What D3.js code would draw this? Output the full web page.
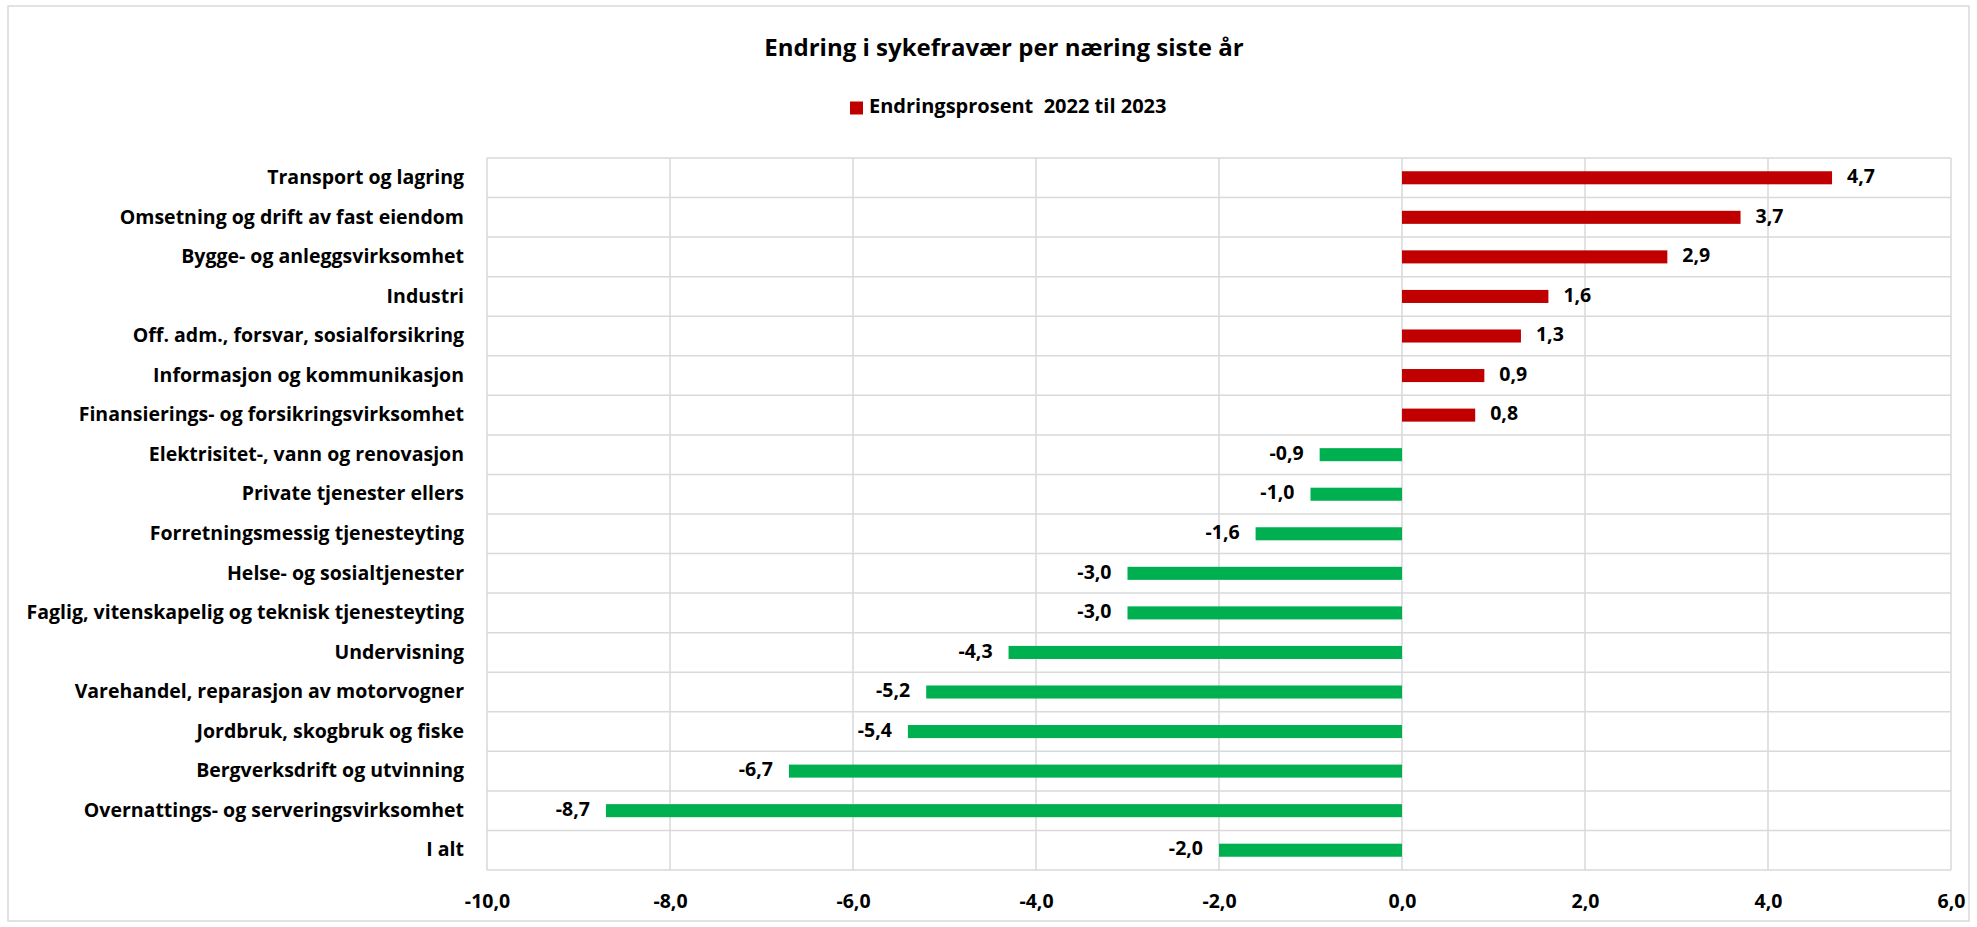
<!DOCTYPE html>
<html>
<head>
<meta charset="utf-8">
<script src="https://cdn.jsdelivr.net/npm/d3@7"></script>
<style>
  body { margin: 0; background: #fff; }
  text { font-family: "Open Sans", Lato, sans-serif; font-weight: bold; fill: #000; }
</style>
</head>
<body>
<div id="chart"></div>
<script>
// Data
const categories = [
    "Transport og lagring",
    "Omsetning og drift av fast eiendom",
    "Bygge- og anleggsvirksomhet",
    "Industri",
    "Off. adm., forsvar, sosialforsikring",
    "Informasjon og kommunikasjon",
    "Finansierings- og forsikringsvirksomhet",
    "Elektrisitet-, vann og renovasjon",
    "Private tjenester ellers",
    "Forretningsmessig tjenesteyting",
    "Helse- og sosialtjenester",
    "Faglig, vitenskapelig og teknisk tjenesteyting",
    "Undervisning",
    "Varehandel, reparasjon av motorvogner",
    "Jordbruk, skogbruk og fiske",
    "Bergverksdrift og utvinning",
    "Overnattings- og serveringsvirksomhet",
    "I alt"
];
const changes = [4.7, 3.7, 2.9, 1.6, 1.3, 0.9, 0.8, -0.9, -1.0, -1.6, -3.0, -3.0, -4.3, -5.2, -5.4, -6.7, -8.7, -2.0];
const xTicks = [-10, -8, -6, -4, -2, 0, 2, 4, 6];
const seriesName = "Endringsprosent  2022 til 2023";
const title = "Endring i sykefravær per næring siste år";

const WIDTH = 1977, HEIGHT = 927;
const PLOT = { LEFT: 487, RIGHT: 1951, TOP: 158, BOTTOM: 870 };
const RED = "#C00000", GREEN = "#00B050", GRID = "#D9D9D9";
const FS = "19.5px";

const rows = categories.map((c, i) => ({ name: c, value: changes[i] }));
// Norwegian style: comma decimal, plain hyphen for minus
const fmt = v => d3.format(".1f")(v).replace(".", ",").replace("\u2212", "-");

const svg = d3.select("#chart").append("svg")
    .attr("width", WIDTH)
    .attr("height", HEIGHT);

// chart border
svg.append("rect")
    .attr("x", 8).attr("y", 6)
    .attr("width", WIDTH - 16).attr("height", HEIGHT - 12)
    .attr("fill", "#fff")
    .attr("stroke", GRID)
    .attr("stroke-width", 1.5);

// title + legend
svg.append("text")
    .attr("x", 1004).attr("y", 50)
    .attr("text-anchor", "middle")
    .attr("dominant-baseline", "middle")
    .style("font-size", "24px")
    .text(title);

const legend = svg.append("g").attr("transform", "translate(850, 108)");
legend.append("rect")
    .attr("x", 0).attr("y", -6.5)
    .attr("width", 13).attr("height", 13)
    .attr("fill", RED);
legend.append("text")
    .attr("x", 19).attr("y", 0)
    .attr("dominant-baseline", "middle")
    .style("font-size", "20px")
    .style("white-space", "pre")
    .text(seriesName);

// scales
const x = d3.scaleLinear()
    .domain([xTicks[0], xTicks[xTicks.length - 1]])
    .range([PLOT.LEFT, PLOT.RIGHT]);

const y = d3.scaleBand()
    .domain(categories)
    .range([PLOT.TOP, PLOT.BOTTOM])
    .padding(0);

// gridlines
const grid = svg.append("g");
grid.selectAll(".vgrid")
    .data(xTicks)
    .enter().append("line")
    .attr("x1", d => x(d)).attr("x2", d => x(d))
    .attr("y1", PLOT.TOP).attr("y2", PLOT.BOTTOM)
    .attr("stroke", GRID)
    .attr("stroke-width", 1.5);

const hLines = categories.map(c => y(c)).concat([PLOT.BOTTOM]);
grid.selectAll(".hgrid")
    .data(hLines)
    .enter().append("line")
    .attr("x1", PLOT.LEFT).attr("x2", PLOT.RIGHT)
    .attr("y1", d => d).attr("y2", d => d)
    .attr("stroke", GRID)
    .attr("stroke-width", 1.5);

// axes
const xAxis = svg.append("g")
    .attr("transform", `translate(0, ${PLOT.BOTTOM})`)
    .call(d3.axisBottom(x).tickValues(xTicks).tickFormat(fmt).tickSize(0).tickPadding(24));
xAxis.select(".domain").remove();
xAxis.selectAll("text")
    .style("font-size", FS)
    .style("font-family", "'Open Sans', sans-serif");

const yAxis = svg.append("g")
    .attr("transform", `translate(${PLOT.LEFT}, 0)`)
    .call(d3.axisLeft(y).tickSize(0).tickPadding(23));
yAxis.select(".domain").remove();
yAxis.selectAll("text")
    .style("font-size", FS)
    .style("font-family", "'Open Sans', sans-serif");

// bars
const barH = y.bandwidth() * 0.33;
svg.selectAll(".bar")
    .data(rows)
    .enter().append("rect")
    .attr("class", "bar")
    .attr("x", d => x(Math.min(0, d.value)))
    .attr("width", d => Math.abs(x(d.value) - x(0)))
    .attr("y", d => y(d.name) + (y.bandwidth() - barH) / 2)
    .attr("height", barH)
    .attr("fill", d => d.value >= 0 ? RED : GREEN);

// value labels
svg.selectAll(".val")
    .data(rows)
    .enter().append("text")
    .attr("class", "val")
    .attr("x", d => d.value >= 0 ? x(d.value) + 15 : x(d.value) - 16)
    .attr("y", d => y(d.name) + y.bandwidth() / 2)
    .attr("text-anchor", d => d.value >= 0 ? "start" : "end")
    .attr("dominant-baseline", "middle")
    .style("font-size", FS)
    .text(d => fmt(d.value));
</script>
</body>
</html>
